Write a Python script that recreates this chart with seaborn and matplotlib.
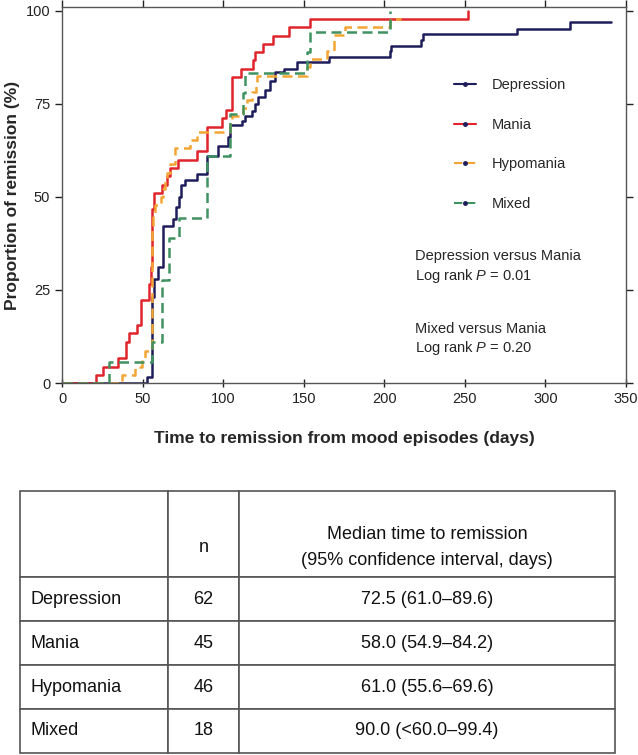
import numpy as np
import pandas as pd
import matplotlib.pyplot as plt
import seaborn as sns
from matplotlib.lines import Line2D, TICKUP

# Kaplan-Meier style cumulative remission (%)
dep_days = [0, 52.6, 55.7, 57.1, 59.8, 62.5, 68.9, 70.8, 72.9, 73.7, 76.4, 83.7, 90.2, 97.1,
            103.3, 104.3, 111.6, 113.7, 117.8, 119.9, 121.9, 126.0, 129.2, 132.3, 137.5, 145.8,
            165.4, 203.3, 204.2, 222.8, 224.0, 282.4, 315.5, 340.4]
dep_pct = [0, 1.6, 23.1, 27.9, 31.1, 42.2, 44.0, 47.2, 49.9, 53.1, 54.4, 56.2, 61.1, 63.8,
           66.0, 69.4, 70.5, 71.8, 73.2, 75.0, 76.8, 78.6, 81.2, 83.5, 84.4, 86.1,
           87.5, 89.3, 90.6, 92.1, 93.8, 95.1, 97.1, 97.1]

man_days = [0, 20.9, 25.7, 35.0, 39.6, 41.6, 46.4, 49.1, 54.2, 55.1, 55.7, 57.3, 62.3, 65.0,
            67.1, 72.2, 84.0, 90.2, 99.2, 101.9, 105.4, 111.0, 118.8, 119.9, 125.0, 131.1,
            141.0, 154.0, 252.2]
man_pct = [0, 2.2, 4.4, 6.7, 11.1, 13.3, 15.6, 22.2, 26.7, 31.1, 46.7, 51.1, 53.3, 55.6,
           57.8, 60.0, 62.2, 68.9, 71.1, 73.3, 82.2, 84.4, 86.7, 88.9, 91.1, 93.3,
           95.6, 97.8, 100]

hyp_days = [0, 37.1, 45.3, 49.5, 51.6, 55.7, 56.7, 57.8, 61.5, 62.9, 64.0, 65.0, 67.1, 70.2,
            79.5, 83.7, 104.3, 105.4, 112.6, 114.7, 117.8, 120.5, 120.9, 152.1, 154.0,
            164.4, 168.5, 175.5, 203.7, 210.6]
hyp_pct = [0, 2.2, 4.3, 6.5, 8.7, 41.3, 45.7, 47.8, 50.0, 52.2, 54.3, 56.5, 58.7, 63.0,
           65.2, 67.4, 69.6, 71.7, 73.9, 76.1, 78.3, 80.4, 82.6, 84.8, 87.0,
           89.1, 93.5, 95.7, 97.8, 97.8]

mix_days = [0, 29.4, 56.0, 61.9, 66.7, 72.9, 90.2, 104.5, 112.6, 113.7, 152.1, 154.0, 203.7]
mix_pct = [0, 5.6, 11.1, 27.8, 38.9, 44.4, 61.1, 72.2, 77.8, 83.3, 88.9, 94.4, 100]

groups = ["Depression", "Mania", "Hypomania", "Mixed"]
colors = ["#1e1d5c", "#e0242c", "#f2a532", "#3f9361"]
styles = ["-", "-", (0, (4, 2.2)), (0, (4, 2.2))]

# table
n_vals = ["62", "45", "46", "18"]
medians = ["72.5 (61.0\u201389.6)", "58.0 (54.9\u201384.2)",
           "61.0 (55.6\u201369.6)", "90.0 (<60.0\u201399.4)"]

sns.set_theme(style="ticks")
plt.rcParams["font.family"] = ["Liberation Sans", "DejaVu Sans"]
plt.rcParams["mathtext.fontset"] = "custom"
plt.rcParams["mathtext.it"] = "Liberation Sans:italic"
plt.rcParams["mathtext.rm"] = "Liberation Sans"

df = pd.concat([
    pd.DataFrame({"days": d, "pct": p, "group": g})
    for d, p, g in zip([dep_days, man_days, hyp_days, mix_days],
                       [dep_pct, man_pct, hyp_pct, mix_pct], groups)
])

fig = plt.figure(figsize=(6.38, 7.55), dpi=100)
ax = fig.add_axes([0.0972, 0.4927, 0.884, 0.498])

for g, c, ls in zip(groups, colors, styles):
    sub = df[df["group"] == g]
    sns.lineplot(data=sub, x="days", y="pct", color=c, linestyle=ls, lw=1.8,
                 drawstyle="steps-post", estimator=None, sort=False, ax=ax)

ax.set_xlim(0, 350)
ax.set_ylim(0, 101)
ax.set_xticks(np.arange(0, 351, 50))
ax.set_yticks([0, 25, 50, 75, 100])
ax.tick_params(axis="both", labelsize=10.5, colors="#222", length=5, width=1)
ax.tick_params(axis="x", direction="inout", top=True, length=6, labeltop=False)
ax.tick_params(axis="y", direction="out", right=True)
# top ticks point outward only
for t in ax.xaxis.get_major_ticks():
    t.tick2line.set_marker(TICKUP)
    t.tick2line.set_markersize(5)
for sp in ax.spines.values():
    sp.set_visible(True)
    sp.set_color("#555555")
    sp.set_linewidth(1)

ax.set_xlabel("Time to remission from mood episodes (days)", fontsize=12.5,
              fontweight="bold", labelpad=18)
ax.set_ylabel("Proportion of remission (%)", fontsize=12.5, fontweight="bold", labelpad=4)

handles = [Line2D([], [], color=c, linestyle=ls, lw=1.5, marker="o", markersize=2.5,
                  markerfacecolor="#1e1d5c", markeredgecolor="#1e1d5c")
           for c, ls in zip(colors, styles)]
ax.legend(handles, groups, loc="upper left", bbox_to_anchor=(0.672, 0.845), frameon=False,
          fontsize=10.5, handlelength=1.5, handletextpad=1.1, labelspacing=1.75)

ax.text(219, 36, "Depression versus Mania\nLog rank $\\mathit{P}$ = 0.01", fontsize=10.5,
        va="top", ha="left", linespacing=1.3)
ax.text(219, 16.5, "Mixed versus Mania\nLog rank $\\mathit{P}$ = 0.20", fontsize=10.5,
        va="top", ha="left", linespacing=1.3)

# table below the chart
tax = fig.add_axes([0.0313, 0.0027, 0.9326, 0.347])
tax.axis("off")
cell_text = [["", "\nn", "\nMedian time to remission\n(95% confidence interval, days)"]]
cell_text += [[g, n, m] for g, n, m in zip(groups, n_vals, medians)]
tbl = tax.table(cellText=cell_text, colWidths=[0.249, 0.119, 0.632], cellLoc="center",
                bbox=[0, 0, 1, 1])
tbl.auto_set_font_size(False)
tbl.set_fontsize(13)
for (r, c), cell in tbl.get_celld().items():
    cell.set_edgecolor("#555555")
    cell.set_linewidth(1.2)
    cell.get_text().set_color("#111")
    if r == 0:
        cell.set_height(cell.get_height() * 1.96)
        cell.get_text().set_linespacing(1.7)
    if c == 0:
        cell._loc = "left"
        cell.PAD = 0.07
        cell.get_text().set_ha("left")

fig.savefig("out.png", dpi=100)
